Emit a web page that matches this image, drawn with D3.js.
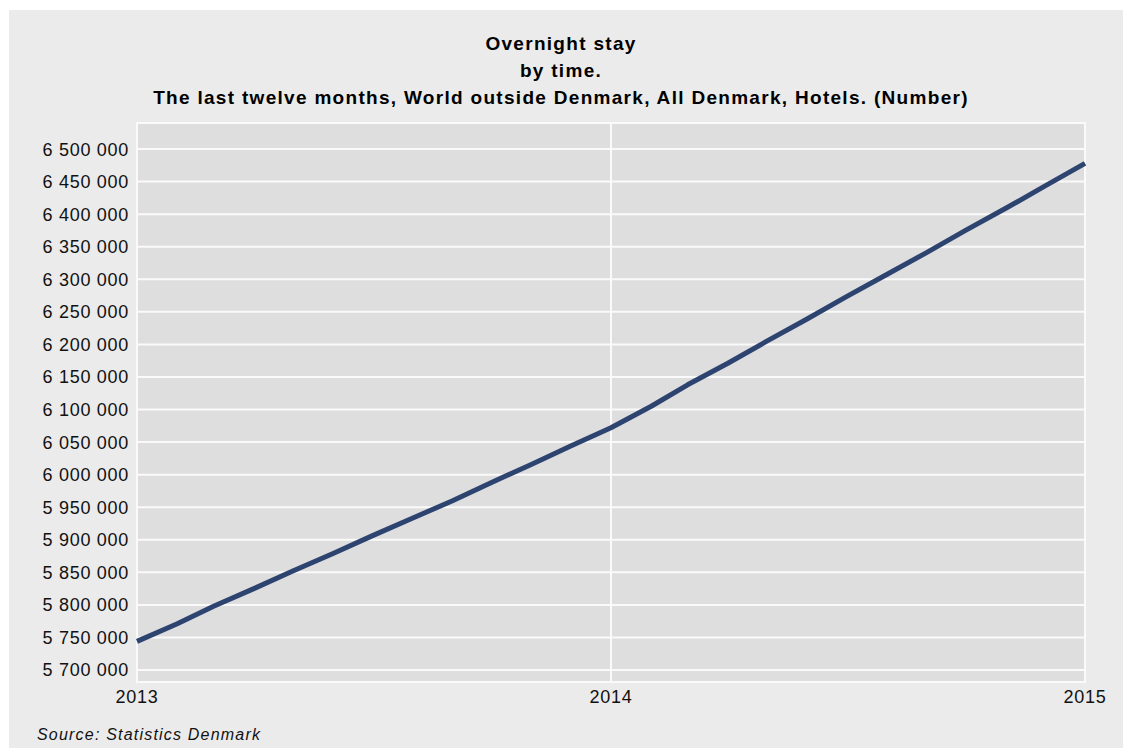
<!DOCTYPE html>
<html>
<head>
<meta charset="utf-8">
<script src="https://cdn.jsdelivr.net/npm/d3@7"></script>
<style>
  html, body { margin: 0; padding: 0; background: #fff; overflow: hidden; }
  svg { display: block; font-family: "Liberation Sans", Arial, sans-serif; }
</style>
</head>
<body>
<svg id="chart"></svg>
<script>
// monthly points, last twelve months total, 2013M01 .. 2015M01
const months = d3.range(25).map(i => new Date(2013, i, 1));
const values = [
  5744000, 5771000, 5798000, 5825000, 5852000, 5879000, 5906000, 5933000,
  5960000, 5988000, 6016000, 6044000,
  6072000, 6105000, 6138000, 6171000, 6205000, 6239000, 6273000, 6307000,
  6341000, 6375000, 6409000, 6443000,
  6478000
];
const yTicks = d3.range(5700000, 6500001, 50000);
const xTicks = [new Date(2013, 0, 1), new Date(2014, 0, 1), new Date(2015, 0, 1)];
const titleLines = [
  "Overnight stay",
  "by time.",
  "The last twelve months, World outside Denmark, All Denmark, Hotels. (Number)"
];

const W = 1123, H = 748;
const plot = { left: 137, right: 1085, top: 123, bottom: 682 };

const svg = d3.select("#chart").attr("width", W).attr("height", H);

// outer panel
svg.append("rect")
  .attr("x", 9).attr("y", 10).attr("width", W - 9).attr("height", H - 10)
  .attr("fill", "#ebebeb");

const x = d3.scaleTime()
  .domain([xTicks[0], xTicks[2]])
  .range([plot.left, plot.right]);

const y = d3.scaleLinear()
  .domain([5681600, 6540000])
  .range([plot.bottom, plot.top]);

// plot area
svg.append("rect")
  .attr("x", plot.left).attr("y", plot.top)
  .attr("width", plot.right - plot.left).attr("height", plot.bottom - plot.top)
  .attr("fill", "#dedede")
  .attr("stroke", "#fafafa").attr("stroke-width", 2);

// gridlines
svg.append("g").selectAll("line.h")
  .data(yTicks)
  .join("line")
    .attr("x1", plot.left).attr("x2", plot.right)
    .attr("y1", d => y(d)).attr("y2", d => y(d))
    .attr("stroke", "#fafafa").attr("stroke-width", 2);

svg.append("line")
  .attr("x1", x(xTicks[1])).attr("x2", x(xTicks[1]))
  .attr("y1", plot.top).attr("y2", plot.bottom)
  .attr("stroke", "#fafafa").attr("stroke-width", 2);

// y axis labels
const fmt = d => d3.format(",")(d).replace(/,/g, " ");
svg.append("g").selectAll("text")
  .data(yTicks)
  .join("text")
    .attr("x", 129).attr("y", d => y(d))
    .attr("dy", "0.36em")
    .attr("text-anchor", "end")
    .attr("font-size", 18).attr("letter-spacing", 0.7)
    .attr("fill", "#111")
    .text(fmt);

// x axis labels
svg.append("g").selectAll("text")
  .data(xTicks)
  .join("text")
    .attr("x", d => x(d)).attr("y", 703)
    .attr("text-anchor", "middle")
    .attr("font-size", 18).attr("letter-spacing", 0.8)
    .attr("fill", "#111")
    .text(d => d.getFullYear());

// series
const line = d3.line()
  .x((d, i) => x(months[i]))
  .y(d => y(d));

svg.append("path")
  .datum(values)
  .attr("d", line)
  .attr("fill", "none")
  .attr("stroke", "#2e4470")
  .attr("stroke-width", 5)
  .attr("stroke-linejoin", "round");

// title
svg.append("g").selectAll("text")
  .data(titleLines)
  .join("text")
    .attr("x", 561).attr("y", (d, i) => 50 + i * 27)
    .attr("text-anchor", "middle")
    .attr("font-size", 19).attr("font-weight", "bold")
    .attr("letter-spacing", 1.3)
    .attr("fill", "#000")
    .text(d => d);

// source
svg.append("text")
  .attr("x", 37).attr("y", 740)
  .attr("font-size", 16).attr("font-style", "italic")
  .attr("letter-spacing", 1.2)
  .attr("fill", "#111")
  .text("Source: Statistics Denmark");
</script>
</body>
</html>
